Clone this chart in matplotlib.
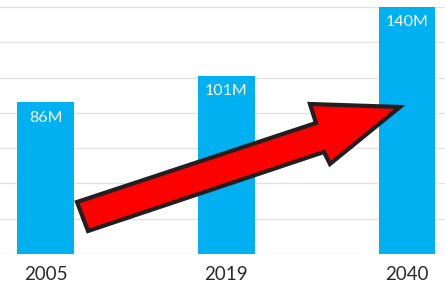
import matplotlib
matplotlib.use("Agg")
import matplotlib.pyplot as plt
from matplotlib.patches import Polygon

years = ["2005", "2019", "2040"]
values = [86, 101, 140]
labels = ["86M", "101M", "140M"]

# arrow outline, pixel positions (x, y from top-left)
arrow_px = [(77, 202), (316, 123), (310, 104), (400, 107),
            (330, 164), (324, 152), (88, 231)]

plt.rcParams['font.family'] = ['Lato', 'DejaVu Sans']

fig = plt.figure(figsize=(4.45, 2.87), dpi=100)
ax = fig.add_axes([0, 33 / 287, 1, 254 / 287])

x = list(range(len(years)))
bars = ax.bar(x, values, width=0.314, color='#00B0F0', zorder=2)

ax.set_xlim(-0.253, 2.21)
ax.set_ylim(0, 144)
ax.set_yticks(range(0, 141, 20))
ax.yaxis.grid(True, color='#E2E2E2', linewidth=1.0, zorder=0)
ax.tick_params(axis='y', left=False, labelleft=False)
ax.set_xticks(x)
ax.set_xticklabels(years, fontsize=13.5, color='#2B2B2B')
ax.tick_params(axis='x', length=0, pad=9)
for s in ax.spines.values():
    s.set_visible(False)

for b, lab in zip(bars, labels):
    ax.annotate(lab, (b.get_x() + b.get_width() / 2, b.get_height()),
                xytext=(0, -6), textcoords='offset points',
                ha='center', va='top', color='white', fontsize=11.5,
                zorder=3)

# convert pixel outline to data coordinates
px_per_unit = 254 / 144
pts = [((px - 45.7) / 180.7, (254 - py) / px_per_unit) for px, py in arrow_px]
ax.add_patch(Polygon(pts, closed=True, facecolor='#FF0000',
                     edgecolor='#231F20', linewidth=3.0, joinstyle='miter',
                     zorder=4))

fig.savefig("out.png", dpi=100)
